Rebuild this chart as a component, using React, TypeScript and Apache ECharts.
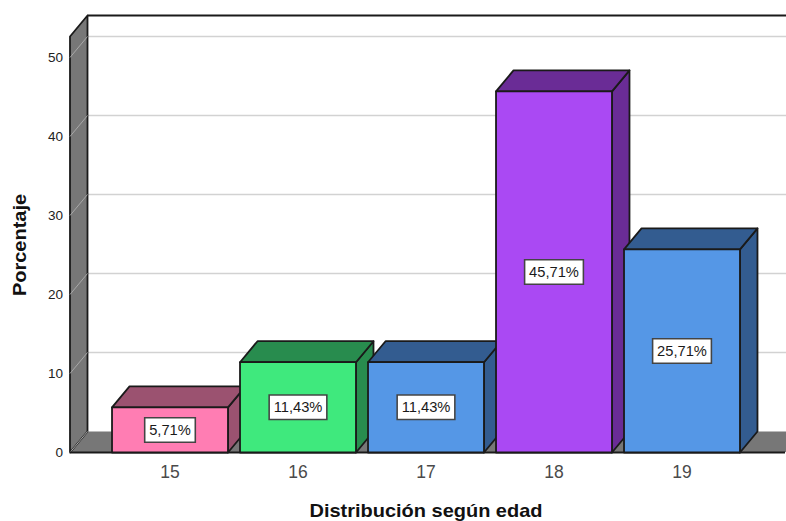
import React, { useEffect, useRef } from "react";
import * as echarts from "echarts";

const categories = ["15", "16", "17", "18", "19"];
const percentages = [5.71, 11.43, 11.43, 45.71, 25.71];
const valueLabels = ["5,71%", "11,43%", "11,43%", "45,71%", "25,71%"];
const frontColors = ["#ff7db3", "#3fe97d", "#5597e6", "#aa49f3", "#5597e6"];
const sideColors = ["#9b5270", "#288c4e", "#335c90", "#6a2c96", "#335c90"];
const yTicks = [0, 10, 20, 30, 40, 50];
const xTitle = "Distribución según edad";
const yTitle = "Porcentaje";

const DEPTH_X = 17.5;
const DEPTH_Y = 21;
const WALL_OFFSET = 36;
const OUTLINE = "#1a1a1a";
const FONT = "'Liberation Sans', Arial, sans-serif";

function renderFrame(params: any, api: any) {
  const cs = params.coordSys;
  const left = cs.x - WALL_OFFSET;
  const right = 785;
  const y0 = api.coord([0, 0])[1];
  const y50 = api.coord([0, 50])[1];
  const children: any[] = [];
  children.push({
    type: "polygon",
    shape: { points: [[left, y0], [left + DEPTH_X, y0 - DEPTH_Y], [right + DEPTH_X, y0 - DEPTH_Y], [right, y0]] },
    style: { fill: "#777777", stroke: "none" },
  });
  yTicks.forEach((t) => {
    const y = api.coord([0, t])[1];
    if (t > 0) {
      children.push({
        type: "line",
        shape: { x1: left + DEPTH_X, y1: y - DEPTH_Y, x2: 786, y2: y - DEPTH_Y },
        style: { stroke: "#d2d2d2", lineWidth: 1.5 },
      });
    }
  });
  children.push({
    type: "polygon",
    shape: { points: [[left, y0], [left + DEPTH_X, y0 - DEPTH_Y], [left + DEPTH_X, y50 - 2 * DEPTH_Y], [left, y50 - DEPTH_Y]] },
    style: { fill: "#777777", stroke: OUTLINE, lineWidth: 1.8, lineJoin: "round" },
  });
  yTicks.forEach((t) => {
    const y = api.coord([0, t])[1];
    children.push({
      type: "line",
      shape: { x1: left, y1: y, x2: left + DEPTH_X, y2: y - DEPTH_Y },
      style: { stroke: "#a8a8a8", lineWidth: 1 },
    });
  });
  children.push({
    type: "line",
    shape: { x1: left + DEPTH_X, y1: y50 - 2 * DEPTH_Y, x2: 786, y2: y50 - 2 * DEPTH_Y },
    style: { stroke: OUTLINE, lineWidth: 1.8 },
  });
  children.push({
    type: "line",
    shape: { x1: left, y1: y0, x2: right, y2: y0 },
    style: { stroke: OUTLINE, lineWidth: 1.8 },
  });
  return { type: "group", children };
}

function renderBar(params: any, api: any) {
  const idx = api.value(0);
  const top = api.coord([idx, api.value(1)]);
  const base = api.coord([idx, 0]);
  const width = api.size([1, 0])[0] * 0.906;
  const x0 = top[0] - width / 2;
  const x1 = top[0] + width / 2;
  const yT = top[1];
  const yB = base[1];
  const edge = { stroke: OUTLINE, lineWidth: 1.8, lineJoin: "round" };
  return {
    type: "group",
    children: [
      {
        type: "polygon",
        shape: { points: [[x1, yB], [x1 + DEPTH_X, yB - DEPTH_Y], [x1 + DEPTH_X, yT - DEPTH_Y], [x1, yT]] },
        style: { fill: sideColors[idx], ...edge },
      },
      {
        type: "polygon",
        shape: { points: [[x0, yT], [x0 + DEPTH_X, yT - DEPTH_Y], [x1 + DEPTH_X, yT - DEPTH_Y], [x1, yT]] },
        style: { fill: sideColors[idx], ...edge },
      },
      {
        type: "rect",
        shape: { x: x0, y: yT, width: x1 - x0, height: yB - yT },
        style: { fill: frontColors[idx], ...edge },
      },
      {
        type: "text",
        x: top[0],
        y: (yT + yB) / 2,
        scaleX: 1.05,
        style: {
          text: valueLabels[idx],
          fill: "#1a1a1a",
          font: `14px ${FONT}`,
          align: "center",
          verticalAlign: "middle",
          backgroundColor: "#ffffff",
          borderColor: "#444444",
          borderWidth: 1.5,
          padding: [5, 3.5, 4, 3.5],
        },
      },
    ],
  };
}

export default function App() {
  const ref = useRef<HTMLDivElement>(null);
  useEffect(() => {
    const chart = echarts.init(ref.current!, null, { renderer: "svg" });
    chart.setOption({
      animation: false,
      backgroundColor: "#ffffff",
      grid: { left: 106, width: 640, top: 57.5, height: 395, outerBoundsMode: "none" },
      xAxis: {
        type: "category",
        data: categories,
        axisLine: { show: false },
        axisTick: { show: false },
        axisLabel: { fontSize: 17.5, color: "#4a4a4a", fontFamily: FONT, margin: 10 },
      },
      yAxis: {
        type: "value",
        min: 0,
        max: 50,
        interval: 10,
        offset: WALL_OFFSET,
        axisLine: { show: false },
        axisTick: { show: false },
        splitLine: { show: false },
        axisLabel: { fontSize: 13.5, color: "#222222", fontFamily: FONT, margin: 7, padding: [3, 0, 0, 0] },
      },
      graphic: [
        {
          type: "text",
          x: 426,
          y: 511,
          scaleX: 1.11,
          style: {
            text: xTitle,
            font: `bold 18px ${FONT}`,
            fill: "#111111",
            align: "center",
            verticalAlign: "middle",
          },
        },
        {
          type: "text",
          x: 20,
          y: 245,
          rotation: Math.PI / 2,
          scaleX: 1.11,
          style: {
            text: yTitle,
            font: `bold 18px ${FONT}`,
            fill: "#111111",
            align: "center",
            verticalAlign: "middle",
          },
        },
      ],
      series: [
        { type: "custom", z: 1, silent: true, data: [[0]], renderItem: renderFrame, clip: false },
        {
          type: "custom",
          z: 2,
          silent: true,
          data: percentages.map((v, i) => [i, v]),
          encode: { x: 0, y: 1 },
          renderItem: renderBar,
          clip: false,
        },
      ],
    });
    return () => chart.dispose();
  }, []);
  return <div ref={ref} style={{ position: "absolute", left: 0, top: 0, width: 786, height: 521 }} />;
}
